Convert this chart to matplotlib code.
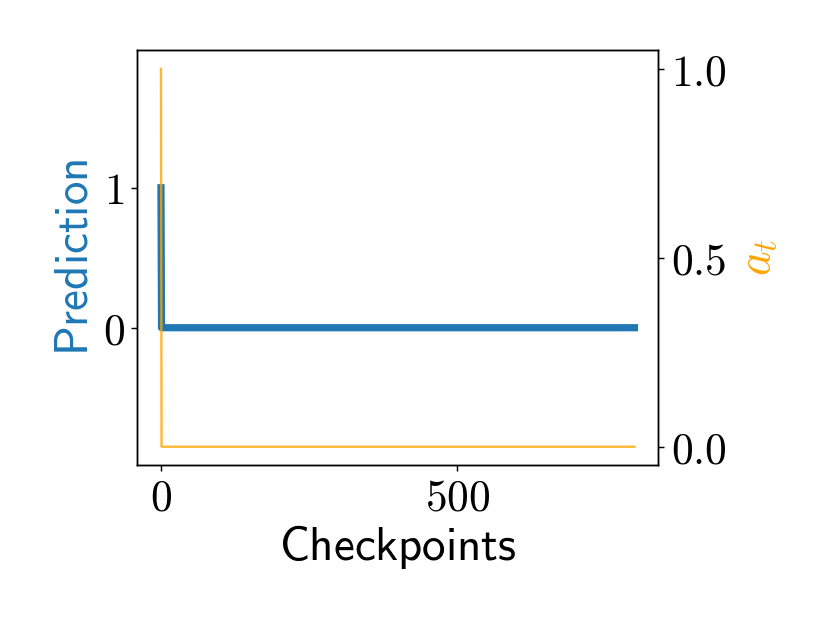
import matplotlib
matplotlib.use("Agg")
import matplotlib.pyplot as plt

plt.rcParams['mathtext.fontset'] = 'cm'
plt.rcParams['font.size'] = 26
plt.rcParams['xtick.labelsize'] = 24
plt.rcParams['ytick.labelsize'] = 24

# Data (change points of the series)
checkpoints = [0, 1, 799]
prediction = [1, 0, 0]
a_t = [1.0, 0.0, 0.0]

x_ticks = [0, 500]
x_tick_labels = ['$0$', '$500$']
left_ticks = [0, 1]
left_tick_labels = ['$0$', '$1$']
right_ticks = [0.0, 0.5, 1.0]
right_tick_labels = ['$0.0$', '$0.5$', '$1.0$']

fig = plt.figure(figsize=(6.4, 4.8), dpi=130)
ax = fig.add_axes([0.165, 0.255, 0.626, 0.665])
ax.plot(checkpoints, prediction, color='#1f77b4', lw=4, solid_capstyle='projecting', zorder=3)
ax.set_ylim(-0.98, 1.985)
ax.set_xticks(x_ticks, x_tick_labels)
ax.set_yticks(left_ticks, left_tick_labels)
ax.set_xlabel(r'$\mathsf{Checkpoints}$', labelpad=2)
ax.set_ylabel(r'$\mathsf{Prediction}$', color='#1f77b4', labelpad=3)

ax2 = ax.twinx()
ax2.plot(checkpoints, a_t, color='orange', alpha=0.8, lw=1.3)
ax2.set_ylim(-0.048, 1.05)
ax2.set_yticks(right_ticks, right_tick_labels)
ax2.set_ylabel('$a_t$', color='orange', labelpad=5)

ax.set_xlim(-39.95, 838.95)
fig.savefig('out.png', dpi=130)
